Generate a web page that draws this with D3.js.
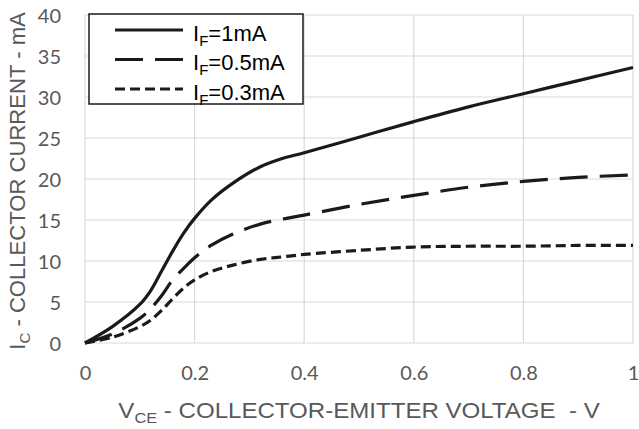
<!DOCTYPE html>
<html>
<head>
<meta charset="utf-8">
<script src="https://cdn.jsdelivr.net/npm/d3@7"></script>
<style>
  body { margin: 0; background: #fff; }
</style>
</head>
<body>
<div id="chart"></div>
<script>
// collector-emitter voltage (V) sample points
var vce = [0, 0.05, 0.1, 0.12, 0.14, 0.16, 0.18, 0.2, 0.23, 0.27, 0.32, 0.36, 0.4, 0.5, 0.6, 0.7, 0.8, 0.9, 1.0];
// collector current (mA) for each forward current
var ic1mA  = [0, 2.0, 4.7, 6.4, 8.8, 11.2, 13.4, 15.2, 17.4, 19.5, 21.5, 22.5, 23.2, 25.1, 27.0, 28.8, 30.4, 32.0, 33.6];
var ic05mA = [0, 1.1, 3.0, 4.2, 5.8, 7.7, 9.1, 10.4, 11.9, 13.3, 14.5, 15.1, 15.6, 16.9, 18.0, 19.0, 19.7, 20.2, 20.5];
var ic03mA = [0, 0.7, 2.0, 2.8, 4.0, 5.4, 6.7, 7.7, 8.7, 9.5, 10.2, 10.5, 10.8, 11.3, 11.7, 11.8, 11.8, 11.9, 11.9];
var seriesLabels = ["1mA", "0.5mA", "0.3mA"];
var xTicks = [0, 0.2, 0.4, 0.6, 0.8, 1];
var yTicks = [0, 5, 10, 15, 20, 25, 30, 35, 40];

var W = 639, H = 429;
var margin = { top: 15, right: 6, bottom: 86, left: 85 };
var width = W - margin.left - margin.right;
var height = H - margin.top - margin.bottom;

var svg = d3.select("#chart").append("svg")
       .attr("width", W)
       .attr("height", H);

var g = svg.append("g")
       .attr("transform", "translate(" + margin.left + "," + margin.top + ")");

var x = d3.scaleLinear().domain([0, 1]).range([0, width]);
var y = d3.scaleLinear().domain([0, 40]).range([height, 0]);

// gridlines
g.append("g").selectAll("line")
       .data(yTicks).enter().append("line")
       .attr("x1", 0).attr("x2", width)
       .attr("y1", d => y(d)).attr("y2", d => y(d))
       .style("stroke", "#d9d9d9").style("stroke-width", 1.2);
g.append("g").selectAll("line")
       .data(xTicks).enter().append("line")
       .attr("y1", 0).attr("y2", height)
       .attr("x1", d => x(d)).attr("x2", d => x(d))
       .style("stroke", "#d9d9d9").style("stroke-width", 1.2);

// axes (labels only)
var xAxis = g.append("g")
       .attr("transform", "translate(0," + height + ")")
       .call(d3.axisBottom(x).tickValues(xTicks).tickSize(0).tickPadding(23)
              .tickFormat(d => d3.format("")(d)));
var yAxis = g.append("g")
       .call(d3.axisLeft(y).tickValues(yTicks).tickSize(0).tickPadding(24));
[xAxis, yAxis].forEach(a => {
       a.select(".domain").remove();
       a.selectAll("text")
              .style("font-family", "Lato, 'Open Sans', sans-serif")
              .style("font-size", "20px")
              .style("fill", "#595959");
});
yAxis.selectAll("text").attr("dy", "0.35em");

// curves
var line = d3.line()
       .x(d => x(d[0]))
       .y(d => y(d[1]))
       .curve(d3.curveCatmullRom.alpha(0.5));

var series = [
       { values: ic1mA, dash: null },
       { values: ic05mA, dash: "28,12" },
       { values: ic03mA, dash: "10,5" }
];

g.selectAll("path.curve")
       .data(series).enter().append("path")
       .attr("class", "curve")
       .attr("d", s => line(vce.map((v, i) => [v, s.values[i]])))
       .style("fill", "none")
       .style("stroke", "#1a1a1a")
       .style("stroke-width", 3.2)
       .style("stroke-dasharray", s => s.dash);

// stretch factor to bring a text to a given width
function fitWidth(sel, w) {
       var bw = sel.node().getBBox().width;
       return w / bw;
}

// legend
var legend = svg.append("g").attr("transform", "translate(89,14)");
legend.append("rect")
       .attr("width", 214).attr("height", 90)
       .style("fill", "#fff")
       .style("stroke", "#1a1a1a")
       .style("stroke-width", 1.5);

var rows = legend.selectAll("g.row")
       .data(series).enter().append("g")
       .attr("transform", (d, i) => "translate(0," + (16 + i * 29.5) + ")");
rows.append("line")
       .attr("x1", 26).attr("x2", 94)
       .style("stroke", "#1a1a1a")
       .style("stroke-width", 3.2)
       .style("stroke-dasharray", d => d.dash);
var lt = rows.append("text")
       .attr("x", 104).attr("y", 10.5)
       .style("font-family", "'Liberation Sans', Arial, sans-serif")
       .style("font-size", "22px")
       .style("fill", "#000");
lt.append("tspan").text("I");
lt.append("tspan").attr("dy", 5).style("font-size", "15px").text("F");
lt.append("tspan").attr("dy", -5).text((d, i) => "=" + seriesLabels[i]);

// axis titles
var xt = svg.append("text")
       .attr("text-anchor", "middle")
       .style("white-space", "pre")
       .style("font-family", "'Liberation Sans', Arial, sans-serif")
       .style("font-size", "22px")
       .style("fill", "#595959");
xt.append("tspan").text("V");
xt.append("tspan").attr("dy", 5).style("font-size", "15px").text("CE");
xt.append("tspan").attr("dy", -5).text(" - COLLECTOR-EMITTER VOLTAGE  - V");
xt.attr("transform", "translate(359,418) scale(" + fitWidth(xt, 482) + ",1)");

var yt = svg.append("text")
       .attr("text-anchor", "middle")
       .style("font-family", "'Liberation Sans', Arial, sans-serif")
       .style("font-size", "22px")
       .style("fill", "#595959");
yt.append("tspan").text("I");
yt.append("tspan").attr("dy", 5).style("font-size", "15px").text("C");
yt.append("tspan").attr("dy", -5).text(" - COLLECTOR CURRENT - mA");
yt.attr("transform", "translate(25,181) rotate(-90) scale(" + fitWidth(yt, 338) + ",1)");
</script>
</body>
</html>
